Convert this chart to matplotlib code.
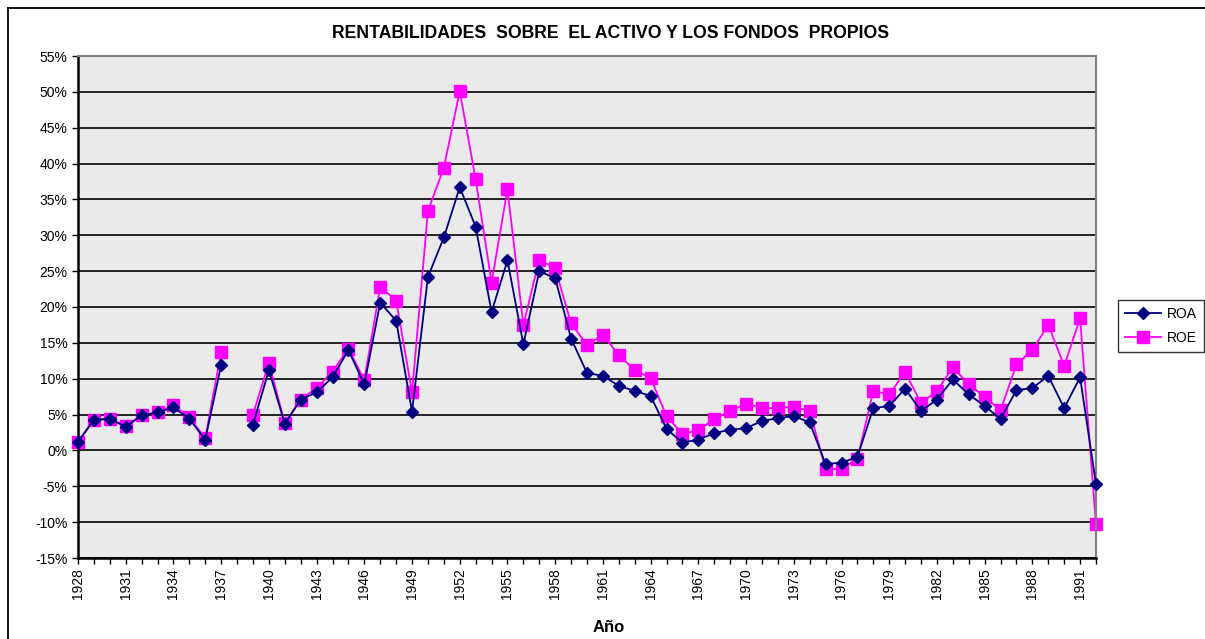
import numpy as np
import matplotlib
matplotlib.use("Agg")
import matplotlib.pyplot as plt
from matplotlib.lines import Line2D

years = list(range(1928, 1993))
roa = [1.2, 4.3, 4.4, 3.3, 4.9, 5.3, 6.0, 4.4, 1.5, 11.9,
       np.nan, 3.6, 11.2, 3.7, 7.1, 8.1, 10.2, 14.0, 9.2, 20.6,
       18.1, 5.4, 24.2, 29.7, 36.7, 31.2, 19.3, 26.5, 14.8, 25.0,
       24.0, 15.6, 10.8, 10.4, 9.0, 8.3, 7.6, 3.0, 1.1, 1.5,
       2.4, 2.9, 3.1, 4.1, 4.5, 4.8, 3.9, -1.9, -1.7, -0.9,
       5.9, 6.2, 8.6, 5.5, 7.1, 9.9, 7.8, 6.2, 4.4, 8.4,
       8.7, 10.4, 5.9, 10.2, -4.7]
roe = [1.2, 4.2, 4.4, 3.4, 4.9, 5.3, 6.3, 4.6, 1.7, 13.7,
       np.nan, 5.0, 12.2, 3.8, 7.1, 8.7, 11.0, 14.2, 9.8, 22.8,
       20.9, 8.1, 33.4, 39.4, 50.1, 37.8, 23.4, 36.4, 17.5, 26.6,
       25.4, 17.7, 14.7, 16.1, 13.3, 11.2, 10.1, 4.8, 2.3, 2.8,
       4.4, 5.5, 6.5, 5.9, 5.9, 6.1, 5.5, -2.6, -2.6, -1.2,
       8.3, 7.8, 10.9, 6.6, 8.3, 11.6, 9.2, 7.5, 5.6, 12.0,
       14.0, 17.5, 11.8, 18.4, -10.3]
yticks = list(range(-15, 60, 5))
title = "RENTABILIDADES  SOBRE  EL ACTIVO Y LOS FONDOS  PROPIOS"
xlabel = "Año"

plt.rcParams['font.family'] = ['Liberation Sans', 'DejaVu Sans']

fig = plt.figure(figsize=(12.05, 6.39), dpi=100)
bx, by = 8/1205, 1 - 8/639
fig.add_artist(Line2D([bx, 1.0], [by, by], transform=fig.transFigure, color='black', linewidth=1.3))
fig.add_artist(Line2D([bx, bx], [0, by], transform=fig.transFigure, color='black', linewidth=1.3))

ax = fig.add_axes([78/1205, 1 - 558/639, (1096 - 78)/1205, (558 - 56)/639])
ax.set_facecolor('#EAEAEA')

x = np.array(years)
ax.plot(x, roa, color='#000080', marker='D', markersize=6, linewidth=1.3, label='ROA',
        zorder=3, clip_on=False)
ax.plot(x, roe, color='#FF00FF', marker='s', markersize=8, linewidth=1.3, label='ROE',
        zorder=2, clip_on=False)

ax.set_xlim(1928, 1992)
ax.set_ylim(-15, 55)
ax.set_yticks(yticks)
ax.set_yticklabels([f"{v}%" for v in yticks], fontsize=10)
ax.yaxis.grid(True, color='black', linewidth=1.2)
ax.set_axisbelow(True)

ax.set_xticks(years, minor=True)
major = years[::3]
ax.set_xticks(major)
ax.set_xticklabels([str(y) for y in major], rotation=90, fontsize=10)
ax.tick_params(axis='x', which='both', length=4, direction='out', width=1)
ax.tick_params(axis='y', length=4, direction='out', width=1)

for s in ['top', 'right']:
    ax.spines[s].set_color('#808080')
    ax.spines[s].set_linewidth(1.5)
ax.spines['left'].set_linewidth(1.8)
ax.spines['bottom'].set_linewidth(1.8)

fig.text(611/1205, 1 - 33/639, title, ha='center', va='center',
         fontsize=12.7, fontweight='bold')
fig.text(609/1205, 1 - 628/639, xlabel, ha='center', va='center',
         fontsize=12, fontweight='bold')

leg = fig.legend(loc='center', bbox_to_anchor=(1161/1205, 1 - 326/639), frameon=True,
                 fancybox=False, edgecolor='black', fontsize=10, handlelength=2.6,
                 handletextpad=0.4, borderpad=0.5, labelspacing=0.7, borderaxespad=0)
leg.get_frame().set_linewidth(1.0)

fig.savefig('out.png', dpi=100)
